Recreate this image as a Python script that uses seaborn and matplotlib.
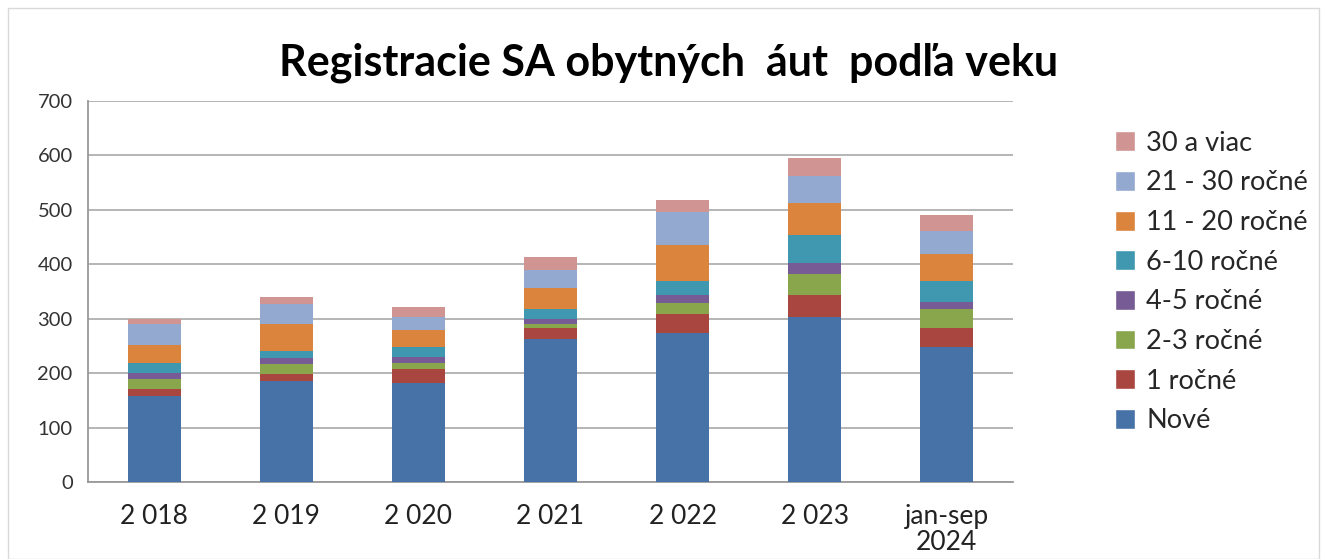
import numpy as np
import pandas as pd
import matplotlib
matplotlib.use("Agg")
import matplotlib.pyplot as plt
import seaborn as sns
from matplotlib.patches import Patch, Rectangle

years = ['2 018', '2 019', '2 020', '2 021', '2 022', '2 023', 'jan-sep\n2024']

# counts per age group
nove = [158, 186, 182, 263, 273, 303, 248]
r1 = [12, 12, 25, 20, 35, 40, 35]
r2_3 = [19, 19, 12, 8, 21, 39, 35]
r4_5 = [11, 10, 11, 9, 15, 20, 13]
r6_10 = [18, 13, 18, 17, 26, 52, 38]
r11_20 = [34, 51, 31, 39, 65, 58, 50]
r21_30 = [39, 36, 25, 34, 61, 50, 42]
r30 = [9, 12, 18, 23, 22, 33, 29]

groups = ['Nové', '1 ročné', '2-3 ročné', '4-5 ročné', '6-10 ročné',
          '11 - 20 ročné', '21 - 30 ročné', '30 a viac']
colors = ['#4672a8', '#a9463f', '#8aa64c', '#765b94', '#3f98b0',
          '#db843d', '#93a9d0', '#d09493']

df = pd.DataFrame(dict(zip(groups, [nove, r1, r2_3, r4_5, r6_10,
                                    r11_20, r21_30, r30])), index=years)
cum = df.cumsum(axis=1)

sns.set_style('white')
plt.rcParams['font.family'] = ['Lato', 'DejaVu Sans']

fig = plt.figure(figsize=(13.27, 5.59), dpi=100)
ax = fig.add_axes([88 / 1327, 1 - 482 / 559, 925 / 1327, 381 / 559])

# stacked bars: draw the tallest cumulative layer first, then overlay
for grp, col in zip(groups[::-1], colors[::-1]):
    sns.barplot(x=cum.index, y=cum[grp], color=col, width=0.4,
                saturation=1, ax=ax, label=grp, zorder=3, linewidth=0)

ax.set_ylim(0, 700)
ax.set_yticks(np.arange(0, 701, 100))
ax.set_xlim(-0.5, len(years) - 0.5)
ax.set_xlabel('')
ax.set_ylabel('')
ax.grid(axis='y', color='#b0b0b0', linewidth=1.3, zorder=0)
for s in ['top', 'right']:
    ax.spines[s].set_visible(False)
for s in ['left', 'bottom']:
    ax.spines[s].set_color('#999999')
    ax.spines[s].set_linewidth(1.3)

# x ticks at category boundaries, labels centred
ax.set_xticks(np.arange(-0.5, len(years)), minor=False)
ax.set_xticklabels([])
ax.set_xticks(np.arange(len(years)), minor=True)
ax.set_xticklabels(years, minor=True, fontsize=19, color='#222222',
                   linespacing=1.05)
ax.tick_params(axis='x', which='major', length=8, color='#999999', width=1.2,
               direction='out')
ax.tick_params(axis='x', which='minor', length=0, pad=16)
ax.tick_params(axis='y', length=7, color='#999999', width=1.2, direction='out',
               labelsize=14.5, labelcolor='#333333', pad=4)

handles = [Patch(facecolor=c, label=g) for g, c in zip(groups[::-1], colors[::-1])]
ax.legend(handles=handles, loc='center left',
          bbox_to_anchor=((1115 - 88) / 925, 0.525),
          frameon=False, fontsize=19.5, handlelength=0.75, handleheight=0.75,
          handletextpad=0.4, labelspacing=0.54, borderaxespad=0, borderpad=0)

fig.text(0.504, 1 - 63 / 559, 'Registracie SA obytných  áut  podľa veku',
         ha='center', va='center', fontsize=31, fontweight='bold', color='black')

fig.patches.append(Rectangle((8 / 1327, 0), 1311 / 1327, 1 - 8 / 559,
                             transform=fig.transFigure, fill=False,
                             edgecolor='#d9d9d9', linewidth=1))

fig.savefig('out.png', dpi=100)
